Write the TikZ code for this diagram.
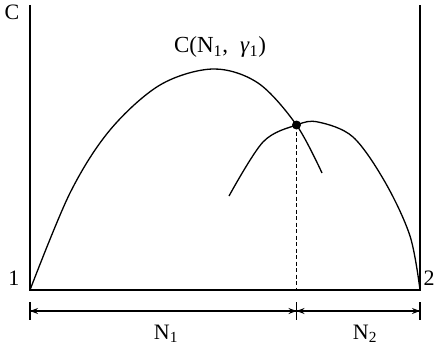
\documentclass[tikz,border=0pt]{standalone}
\usepackage{fontspec}
\setmainfont{Liberation Serif}
\usetikzlibrary{arrows.meta}
\begin{document}
\begin{tikzpicture}[x=1pt,y=-1pt,
  ln/.style={line width=1.2pt,black},
  curve/.style={line width=1.3pt,black},
  dimarrow/.style={line width=1.2pt,-{Stealth[length=8pt,width=6pt]}},
  lbl/.style={font=\fontsize{22}{24}\selectfont,inner sep=0pt}]
\useasboundingbox (0,0) rectangle (438,353);
% axes
\coordinate (ltop) at (30,5);
\coordinate (lbot) at (30,290);
\coordinate (rtop) at (420,5);
\coordinate (rbot) at (420,290);
\coordinate (dot) at (296.5,125);
\coordinate (dbot) at (296.5,290);
\draw[ln] (ltop) -- (lbot) -- (rbot) -- (rtop);
% curves
\draw[curve] plot[smooth,tension=0.55] coordinates {(30,290) (70,193) (110,130) (160,85) (213,69) (258,83) (296.5,125) (322,173)};
\draw[curve] plot[smooth,tension=0.55] coordinates {(229,196) (263,142) (296.5,125) (318,122) (353,137) (385,182) (410,236) (420,290)};
% dashed
\draw[ln,dashed,dash pattern=on 4pt off 2.5pt] (dot) -- (dbot);
\fill (dot) circle (4.5pt);
% dimension line
\coordinate (d0) at (30,311);
\coordinate (d1) at (296.5,311);
\coordinate (d2) at (420,311);
\draw[ln] (30,302) -- (30,320);
\draw[ln] (296.5,302) -- (296.5,320);
\draw[ln] (420,302) -- (420,320);
\draw[dimarrow] (d1) -- (d0);
\draw[dimarrow] (d0) -- (d1);
\draw[dimarrow] (d1) -- (d2);
\draw[dimarrow] (d2) -- (d1);
% labels
\node[lbl] (cl) at (12,12) {C};
\node[lbl] (one) at (14,278) {1};
\node[lbl] (two) at (429,278) {2};
\node[lbl] (n1) at (166,334) {N\textsubscript{1}};
\node[lbl] (n2) at (365,334) {N\textsubscript{2}};
\node[lbl,font=\fontsize{23}{25}\selectfont] (cg) at (220,47) {C(N\textsubscript{1},\; \textit{γ}\textsubscript{1})};
\end{tikzpicture}
\end{document}
